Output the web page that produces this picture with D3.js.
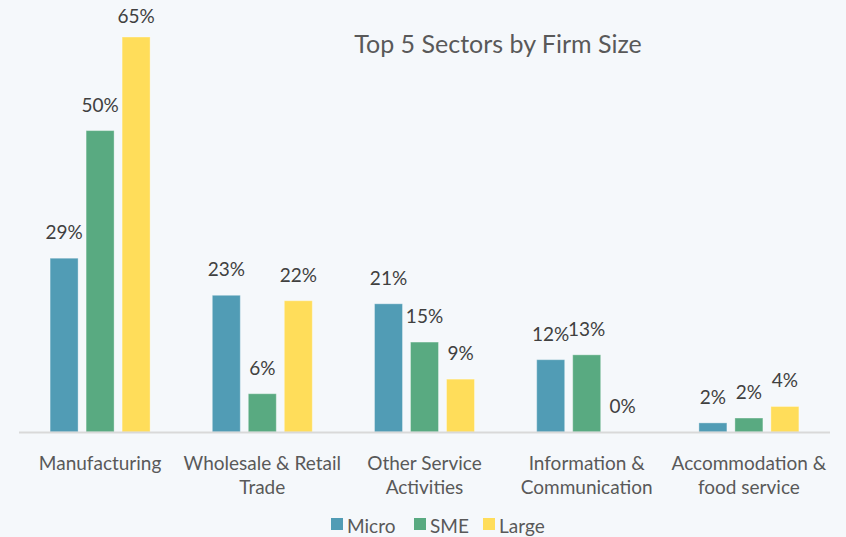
<!DOCTYPE html>
<html><head><meta charset="utf-8">
<script src="https://cdn.jsdelivr.net/npm/d3@7"></script>
<style>
html,body{margin:0;padding:0;background:#f5f8fb;}
svg{display:block;font-family:Lato,"Open Sans",sans-serif;}
</style></head>
<body><svg id="c" width="846" height="537"></svg>
<script>
const categories = [["Manufacturing"], ["Wholesale & Retail","Trade"], ["Other Service","Activities"], ["Information &","Communication"], ["Accommodation &","food service"]];
const seriesNames = ["Micro","SME","Large"];
const micro = [28.6, 22.5, 21.1, 11.9, 1.5];
const sme   = [49.6, 6.3, 14.8, 12.7, 2.3];
const large = [65.0, 21.6, 8.7, 0, 4.2];
const colors = ["#519cb5","#59aa81","#ffdd5a"];

const svg = d3.select("#c");
const series = [micro, sme, large];
const x0 = d3.scaleBand().domain(d3.range(categories.length)).range([19, 830]).paddingInner(0).paddingOuter(0);
const bw = x0.bandwidth();
const x1 = d3.scaleBand().domain(d3.range(3)).range([bw/2-50, bw/2+50]).paddingInner(8/36).paddingOuter(0);
const y = d3.scaleLinear().domain([0, 65]).range([432, 37]);

svg.append("text").attr("x", 498).attr("y", 53).attr("text-anchor","middle")
  .attr("font-size", 25).attr("fill","#595959").text("Top 5 Sectors by Firm Size");

const g = svg.append("g");
categories.forEach((c, i) => {
  series.forEach((s, j) => {
    const v = s[i];
    const bx = x0(i) + x1(j);
    if (v > 0) {
      g.append("rect").attr("x", bx).attr("y", y(v)).attr("width", x1.bandwidth())
        .attr("height", y(0) - y(v)).attr("fill", colors[j])
        .attr("stroke", "rgba(255,255,255,0.35)").attr("stroke-width", 1);
    }
    g.append("text").attr("x", bx + x1.bandwidth()/2).attr("y", Math.max(23, y(v) - 19))
      .attr("text-anchor","middle").attr("font-size", 19).attr("fill","#404040")
      .text(Math.round(v) + "%");
  });
});

svg.append("line").attr("x1", 19).attr("x2", 830).attr("y1", 432.5).attr("y2", 432.5)
  .attr("stroke", "#d9d9d9").attr("stroke-width", 2);

const xAxis = d3.axisBottom(x0).tickSize(0).tickFormat("");
svg.append("g").attr("transform","translate(0,432)").call(xAxis).call(a => a.select(".domain").remove());

categories.forEach((lines, i) => {
  const t = svg.append("text").attr("x", x0(i) + bw/2).attr("y", 470)
    .attr("text-anchor","middle").attr("font-size", 19).attr("fill","#595959");
  lines.forEach((l, k) => t.append("tspan").attr("x", x0(i) + bw/2).attr("dy", k === 0 ? 0 : 24).text(l));
});

const legX = [331, 414, 483];
seriesNames.forEach((n, j) => {
  svg.append("rect").attr("x", legX[j]).attr("y", 518).attr("width", 12).attr("height", 12).attr("fill", colors[j]);
  svg.append("text").attr("x", legX[j] + 16).attr("y", 533).attr("font-size", 19).attr("fill","#595959").text(n);
});
</script></body></html>
